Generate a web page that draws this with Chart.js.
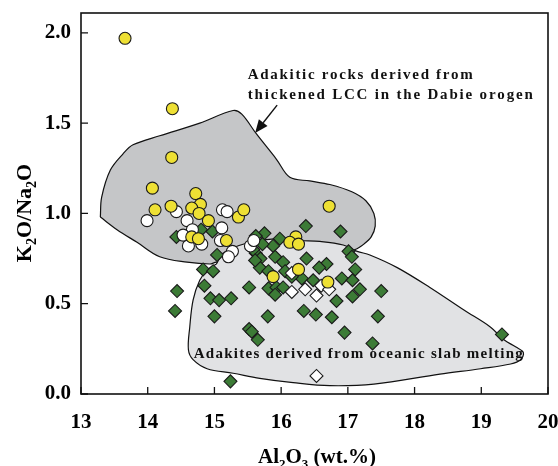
<!DOCTYPE html>
<html>
<head>
<meta charset="utf-8">
<title>K2O/Na2O vs Al2O3</title>
<script src="https://cdn.jsdelivr.net/npm/chart.js@4.4.1/dist/chart.umd.min.js"></script>
<style>
  html, body { margin: 0; padding: 0; background: #fff; }
  #wrap { width: 558px; height: 466px; }
</style>
</head>
<body>
<div id="wrap"><canvas id="plot" width="558" height="466"></canvas></div>
<script>
// axis ticks
const xTicks = [13, 14, 15, 16, 17, 18, 19, 20];
const yTicks = [0, 0.5, 1.0, 1.5, 2.0];

// yellow circles
const yellowCircles = [
  [13.66, 1.97], [14.37, 1.58], [14.36, 1.31], [14.07, 1.14], [14.11, 1.02],
  [14.35, 1.04], [14.72, 1.11], [14.79, 1.05], [14.66, 1.03], [14.77, 1.00],
  [14.91, 0.96], [15.36, 0.98], [15.44, 1.02], [15.18, 0.85], [14.66, 0.87],
  [14.76, 0.86], [16.72, 1.04], [16.22, 0.87], [16.13, 0.84], [16.26, 0.83],
  [16.26, 0.69], [15.88, 0.65], [16.70, 0.62]
];

// white circles
const whiteCircles = [
  [13.99, 0.96], [14.43, 1.01], [14.59, 0.96], [14.67, 0.91], [14.53, 0.88],
  [14.61, 0.82], [14.81, 0.83], [15.12, 1.02], [15.19, 1.01], [15.11, 0.92],
  [15.09, 0.85], [15.27, 0.79], [15.21, 0.76], [15.54, 0.82], [15.59, 0.85]
];

// white diamonds
const whiteDiamonds = [
  [16.16, 0.67], [16.36, 0.58], [16.16, 0.565], [16.53, 0.545],
  [16.60, 0.60], [16.72, 0.58], [16.53, 0.10]
];

// green diamonds
const greenDiamonds = [
  [14.43, 0.87], [14.80, 0.91], [14.97, 0.90], [15.04, 0.77], [14.83, 0.69],
  [14.98, 0.68], [14.85, 0.60], [14.44, 0.57], [14.41, 0.46], [14.94, 0.53],
  [15.07, 0.52], [15.25, 0.53], [15.00, 0.43], [15.52, 0.59], [15.52, 0.36],
  [15.56, 0.345], [15.65, 0.30], [15.24, 0.07], [16.37, 0.93], [16.89, 0.90],
  [17.01, 0.79], [17.06, 0.76], [15.75, 0.89], [15.62, 0.875], [15.98, 0.86],
  [15.88, 0.82], [15.72, 0.83], [15.62, 0.78], [15.69, 0.75], [15.91, 0.76],
  [16.03, 0.73], [16.38, 0.75], [16.68, 0.72], [16.57, 0.70], [17.11, 0.69],
  [16.91, 0.64], [17.07, 0.63], [15.68, 0.70], [15.81, 0.68], [16.06, 0.68],
  [16.31, 0.64], [16.48, 0.63], [15.81, 0.585], [15.93, 0.59], [16.03, 0.59],
  [15.91, 0.55], [17.18, 0.58], [17.07, 0.54], [17.50, 0.57], [16.83, 0.515],
  [16.34, 0.46], [16.52, 0.44], [16.76, 0.425], [15.80, 0.43], [17.45, 0.43],
  [16.95, 0.34], [17.37, 0.28], [19.31, 0.33], [15.58, 0.80], [15.61, 0.74],
  [16.16, 0.65]
];

// field outlines
const lccField = [
  [13.29, 0.98], [13.31, 1.09], [13.44, 1.24], [13.63, 1.33], [13.78, 1.38],
  [14.18, 1.43], [14.78, 1.50], [15.28, 1.57], [15.41, 1.55], [15.63, 1.44],
  [15.93, 1.30], [16.13, 1.20], [16.43, 1.18], [16.73, 1.16], [17.06, 1.12],
  [17.27, 1.07], [17.39, 1.00], [17.41, 0.93], [17.35, 0.87], [17.24, 0.83],
  [17.11, 0.80], [16.73, 0.76], [15.03, 0.73], [14.93, 0.72], [14.59, 0.73],
  [14.18, 0.76], [13.84, 0.84], [13.54, 0.91], [13.29, 0.98]
];

const slabField = [
  [15.03, 0.72], [15.13, 0.78], [15.28, 0.81], [15.48, 0.835], [15.68, 0.85],
  [15.98, 0.86], [16.28, 0.85], [16.58, 0.845], [16.93, 0.825], [17.14, 0.79],
  [17.33, 0.77], [17.74, 0.70], [18.23, 0.59], [18.74, 0.465], [19.14, 0.37],
  [19.34, 0.30], [19.52, 0.26], [19.63, 0.23], [19.59, 0.19], [19.44, 0.166],
  [18.99, 0.14], [18.38, 0.11], [17.39, 0.055], [16.73, 0.046], [16.18, 0.063],
  [15.68, 0.087], [15.28, 0.115], [14.89, 0.14], [14.68, 0.19], [14.61, 0.245],
  [14.63, 0.37], [14.68, 0.52], [14.78, 0.63], [14.90, 0.69], [15.03, 0.72]
];

const serif = '"Liberation Serif", "Times New Roman", serif';

const toXY = arr => arr.map(p => ({ x: p[0], y: p[1] }));

function fieldSet(points, color, order) {
  return {
    type: 'line',
    data: toXY(points),
    borderColor: '#111',
    borderWidth: 1.2,
    backgroundColor: color,
    fill: 'shape',
    tension: 0.35,
    pointRadius: 0,
    order: order
  };
}

function markerSet(points, style, fillColor, radius, order) {
  return {
    type: 'scatter',
    data: toXY(points),
    pointStyle: style,
    pointRadius: radius,
    pointBackgroundColor: fillColor,
    pointBorderColor: '#1a1a1a',
    pointBorderWidth: 1.1,
    order: order
  };
}

// text with even spacing stretched to a given width
function spacedText(ctx, str, x, y, width) {
  const chars = [...str];
  const raw = chars.reduce((w, c) => w + ctx.measureText(c).width, 0);
  const gap = (width - raw) / (chars.length - 1);
  let cx = x;
  chars.forEach(c => {
    ctx.fillText(c, cx, y);
    cx += ctx.measureText(c).width + gap;
  });
}

// text pieces, some of them subscripts
function richText(ctx, parts, cx, y, size) {
  const big = 'bold ' + size + 'px ' + serif;
  const small = 'bold ' + Math.round(size * 0.62) + 'px ' + serif;
  let total = 0;
  parts.forEach(p => { ctx.font = p[1] ? small : big; total += ctx.measureText(p[0]).width; });
  let x = cx - total / 2;
  parts.forEach(p => {
    ctx.font = p[1] ? small : big;
    ctx.fillText(p[0], x, p[1] ? y + size * 0.22 : y);
    x += ctx.measureText(p[0]).width;
  });
}

const decorPlugin = {
  id: 'decor',
  afterDatasetsDraw(chart) {
    const ctx = chart.ctx;
    const a = chart.chartArea;
    const xs = chart.scales.x, ys = chart.scales.y;
    ctx.save();
    ctx.strokeStyle = '#111';
    ctx.fillStyle = '#111';

    // frame
    ctx.lineWidth = 1.6;
    ctx.strokeRect(a.left, a.top, a.right - a.left, a.bottom - a.top);

    // inward ticks
    ctx.lineWidth = 1.3;
    ctx.beginPath();
    xTicks.forEach(v => {
      const px = xs.getPixelForValue(v);
      ctx.moveTo(px, a.bottom);
      ctx.lineTo(px, a.bottom - 7);
    });
    yTicks.forEach(v => {
      const py = ys.getPixelForValue(v);
      ctx.moveTo(a.left, py);
      ctx.lineTo(a.left + 7, py);
    });
    ctx.stroke();

    // annotations
    ctx.textBaseline = 'alphabetic';
    ctx.textAlign = 'left';
    ctx.font = 'bold 15px ' + serif;
    spacedText(ctx, 'Adakitic rocks derived from', xs.getPixelForValue(15.50), ys.getPixelForValue(1.743), 225);
    spacedText(ctx, 'thickened LCC in the Dabie orogen', xs.getPixelForValue(15.50), ys.getPixelForValue(1.634), 285);
    spacedText(ctx, 'Adakites derived from oceanic slab melting', xs.getPixelForValue(14.69), ys.getPixelForValue(0.198), 329);

    // arrow towards the LCC field
    const x0 = xs.getPixelForValue(15.94), y0 = ys.getPixelForValue(1.60);
    const x1 = xs.getPixelForValue(15.61), y1 = ys.getPixelForValue(1.446);
    const ang = Math.atan2(y1 - y0, x1 - x0);
    const head = 13, half = 5.5;
    const bx = x1 - head * Math.cos(ang), by = y1 - head * Math.sin(ang);
    ctx.lineWidth = 1.4;
    ctx.beginPath();
    ctx.moveTo(x0, y0);
    ctx.lineTo(bx, by);
    ctx.stroke();
    ctx.beginPath();
    ctx.moveTo(x1, y1);
    ctx.lineTo(bx + half * Math.sin(ang), by - half * Math.cos(ang));
    ctx.lineTo(bx - half * Math.sin(ang), by + half * Math.cos(ang));
    ctx.closePath();
    ctx.fill();

    // axis titles
    ctx.fillStyle = '#000';
    richText(ctx, [['Al', false], ['2', true], ['O', false], ['3', true], [' (wt.%)', false]], 317, 463, 21);
    ctx.translate(31, 213);
    ctx.rotate(-Math.PI / 2);
    richText(ctx, [['K', false], ['2', true], ['O/Na', false], ['2', true], ['O', false]], 0, 0, 22);
    ctx.restore();
  }
};

const chart = new Chart(document.getElementById('plot'), {
  type: 'scatter',
  data: {
    datasets: [
      markerSet(yellowCircles, 'circle', '#eee034', 6, 1),
      markerSet(whiteCircles, 'circle', '#ffffff', 6, 2),
      markerSet(whiteDiamonds, 'rectRot', '#ffffff', 6.5, 3),
      markerSet(greenDiamonds, 'rectRot', '#3c7b36', 6.5, 4),
      fieldSet(slabField, '#e1e2e4', 5),
      fieldSet(lccField, '#c5c6c8', 6)
    ]
  },
  options: {
    responsive: false,
    animation: false,
    devicePixelRatio: 1,
    layout: { padding: { top: 13, right: 10, left: 0, bottom: 0 } },
    plugins: { legend: { display: false }, tooltip: { enabled: false } },
    scales: {
      x: {
        type: 'linear',
        min: 13,
        max: 20,
        afterBuildTicks: s => { s.ticks = xTicks.map(v => ({ value: v })); },
        afterFit: s => {
          s.height = 72;
          s.paddingLeft = 0; s.paddingRight = 0;
        },
        grid: { display: false, drawTicks: false },
        border: { display: false },
        ticks: {
          padding: 16,
          maxRotation: 0,
          color: '#000',
          font: { family: serif, size: 21, weight: 'bold' },
          callback: v => String(v)
        }
      },
      y: {
        type: 'linear',
        min: 0,
        max: 2.11,
        afterBuildTicks: s => { s.ticks = yTicks.map(v => ({ value: v })); },
        afterFit: s => {
          s.width = 81;
          s.paddingTop = 0; s.paddingBottom = 0;
        },
        grid: { display: false, drawTicks: false },
        border: { display: false },
        ticks: {
          padding: 10,
          color: '#000',
          font: { family: serif, size: 21, weight: 'bold' },
          callback: v => v.toFixed(1)
        }
      }
    }
  },
  plugins: [decorPlugin]
});
</script>
</body>
</html>
